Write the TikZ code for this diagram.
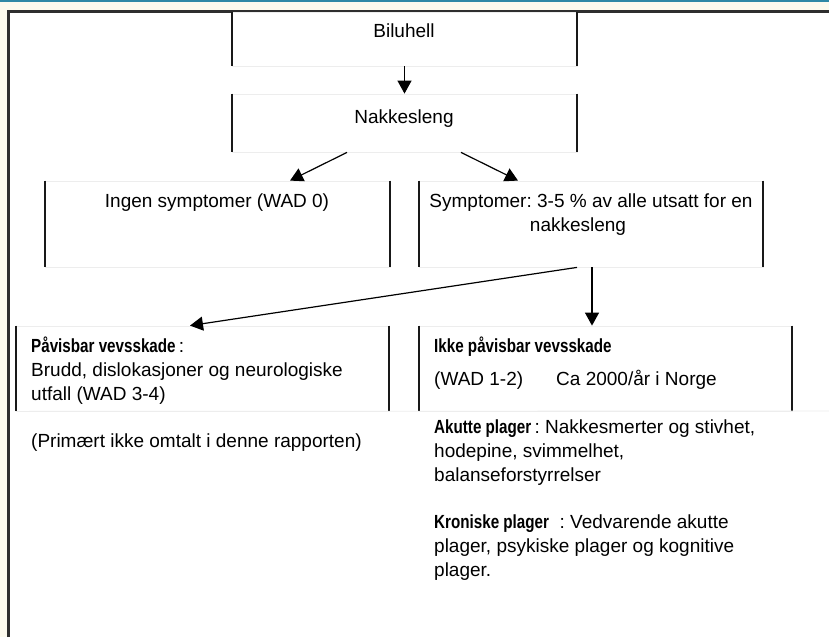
\documentclass[tikz,border=0pt]{standalone}
\usepackage{fontspec}
\setmainfont{Liberation Sans}
\newfontfamily\headfont[FakeStretch=0.8]{Liberation Sans}
\usetikzlibrary{arrows.meta}
\definecolor{pagecream}{RGB}{252,250,238}
\definecolor{barteal}{RGB}{46,136,166}
\newcommand{\headtxt}[1]{{\headfont\bfseries #1}}

\begin{document}
\frenchspacing
\begin{tikzpicture}[
  x=1pt, y=-1pt,
  box/.style={rectangle, draw=black!7, line width=0.8pt, inner sep=0pt},
  side/.style={draw=black!90, line width=2pt},
  txt/.style={inner sep=0pt, font=\fontsize{19}{24}\selectfont},
  blocktxt/.style={txt, align=left, anchor=west},
  link/.style={draw=black, line width=1.2pt, -{Triangle[width=14pt,length=13pt]}},
  frame/.style={draw=black!82, line width=2.5pt},
  faint/.style={draw=black!7, line width=0.8pt}
]
\useasboundingbox (0,0) rectangle (829,637);

% --- Page background and frame ---
\fill[pagecream] (0,0) rectangle (829,637);
\fill[white] (8.5,11.5) rectangle (829,637);
\draw[barteal, line width=1.5pt] (0,0.75) -- (829,0.75);
\draw[frame] (8.5,637) -- (8.5,11.5) -- (829,11.5);

% --- Boxes ---
\node[box, minimum width=345pt, minimum height=54pt] (bil)   at (404.5, 39)    {};
\node[box, minimum width=345pt, minimum height=58pt] (nak)   at (404.5, 123)   {};
\node[box, minimum width=345pt, minimum height=86pt] (ingen) at (217.5, 224)   {};
\node[box, minimum width=344pt, minimum height=86pt] (sym)   at (591, 224)     {};
\node[box, minimum width=373pt, minimum height=85pt] (paa)   at (202.5, 368.5) {};
\node[box, minimum width=373pt, minimum height=85pt] (ikke)  at (605.5, 368.5) {};

% box sides
\draw[side] (bil.north west) -- (bil.south west) (bil.north east) -- (bil.south east);
\draw[side] (nak.north west) -- (nak.south west) (nak.north east) -- (nak.south east);
\draw[side] (ingen.north west) -- (ingen.south west) (ingen.north east) -- (ingen.south east);
\draw[side] (sym.north west) -- (sym.south west) (sym.north east) -- (sym.south east);
\draw[side] (paa.north west) -- (paa.south west) (paa.north east) -- (paa.south east);
\draw[side] (ikke.north west) -- (ikke.south west) (ikke.north east) -- (ikke.south east);

\coordinate (rowend) at (829, 411);
\draw[faint] (paa.south west) -- (rowend);

% --- Texts ---
\node[txt] (tbil) at (404, 31)  {Biluhell};
\node[txt] (tnak) at (404, 119) {Nakkesleng};
\node[txt] (tingen) at (217, 203) {Ingen symptomer (WAD 0)};
\node[txt, align=center] (tsym) at (591, 214.5)
  {Symptomer: 3-5 \% av alle utsatt for en\\nakkesleng\hspace*{26pt}};

\node[blocktxt] (tpaa) at (31, 370.5)
  {\headtxt{Påvisbar vevsskade}\,:\\Brudd, dislokasjoner og neurologiske\\utfall (WAD 3-4)};
\node[blocktxt] (tikke) at (434, 363.5)
  {\headtxt{Ikke påvisbar vevsskade}\\[9pt](WAD 1-2)\hspace{33pt}Ca 2000/år i Norge};

\node[txt, anchor=west] (tprim) at (31, 443) {(Primært ikke omtalt i denne rapporten)};

\node[blocktxt] (takutt) at (434, 453)
  {\headtxt{Akutte plager}\,: Nakkesmerter og stivhet,\\hodepine, svimmelhet,\\balanseforstyrrelser};
\node[blocktxt] (tkron) at (434, 548)
  {\headtxt{Kroniske plager}\ \ : Vedvarende akutte\\plager, psykiske plager og kognitive\\plager.};

% --- Arrows ---
\draw[link] (bil.south) -- (nak.north);
\draw[link] ([xshift=-57.5pt]nak.south) -- ([xshift=72.5pt]ingen.north);
\draw[link] ([xshift=56.5pt]nak.south) -- ([xshift=-73pt]sym.north);
\draw[link] ([xshift=-14pt]sym.south) -- ([xshift=-12.5pt]paa.north);
\draw[link] ([xshift=1pt]sym.south) -- ([xshift=1pt]sym.south |- ikke.north);

\end{tikzpicture}
\end{document}
